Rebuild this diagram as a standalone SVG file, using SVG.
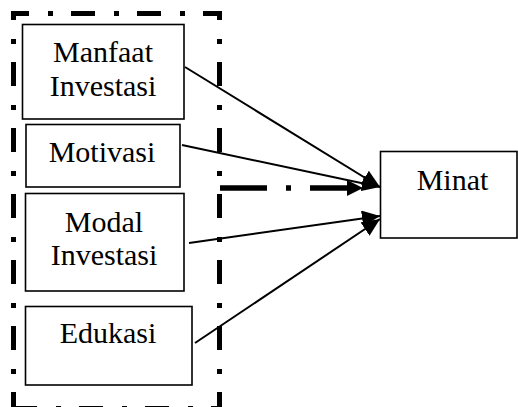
<svg xmlns="http://www.w3.org/2000/svg" width="518" height="407" viewBox="0 0 518 407">
<style>
.box{fill:#fff;stroke:#000;stroke-width:1.6}
.t{font-family:"Liberation Serif","Times New Roman",serif;font-size:30px;fill:#000;text-anchor:middle}
.frame{stroke:#000;stroke-width:5;fill:none;stroke-dasharray:24 19 5 18}
.conn{stroke:#000;stroke-width:2;fill:none}
</style>
<defs>
<marker id="ah" markerUnits="userSpaceOnUse" markerWidth="20" markerHeight="16" refX="18" refY="8" orient="auto">
<path d="M0,0 L18,8 L0,16 z" fill="#000"/>
</marker>
<marker id="ahb" markerUnits="userSpaceOnUse" markerWidth="18" markerHeight="16" refX="0" refY="8" orient="auto">
<path d="M0,0 L16,8 L0,16 z" fill="#000"/>
</marker>
</defs>
<g id="frame">
<line class="frame" x1="12" y1="13.5" x2="222" y2="13.5" stroke-dashoffset="7"/>
<line class="frame" x1="13.5" y1="11" x2="13.5" y2="412" stroke-dashoffset="15"/>
<line class="frame" x1="219.5" y1="11" x2="219.5" y2="412" stroke-dashoffset="15"/>
<line class="frame" x1="13" y1="408.5" x2="222" y2="408.5"/>
</g>
<g id="connectors">
<line class="conn" x1="185" y1="67" x2="380" y2="187" marker-end="url(#ah)"/>
<line class="conn" x1="182" y1="145" x2="380" y2="187" marker-end="url(#ah)"/>
<line x1="220" y1="188" x2="347" y2="188" stroke="#000" stroke-width="5.5" stroke-dasharray="47 19 5 19 60" marker-end="url(#ahb)"/>
<line class="conn" x1="189" y1="243" x2="380" y2="216" marker-end="url(#ah)"/>
<line class="conn" x1="195" y1="343" x2="380" y2="219" marker-end="url(#ah)"/>
</g>
<g id="manfaat">
<rect class="box" x="22.5" y="24.5" width="161.5" height="94.5"/>
<text class="t" x="103" y="62">Manfaat</text>
<text class="t" x="103" y="96">Investasi</text>
</g>
<g id="motivasi">
<rect class="box" x="26" y="124.5" width="154" height="62.5"/>
<text class="t" x="102" y="162">Motivasi</text>
</g>
<g id="modal">
<rect class="box" x="25.5" y="193.5" width="158.5" height="97.5"/>
<text class="t" x="104" y="232">Modal</text>
<text class="t" x="104" y="265">Investasi</text>
</g>
<g id="edukasi">
<rect class="box" x="25.5" y="306.5" width="166.5" height="78.5"/>
<text class="t" x="108" y="343">Edukasi</text>
</g>
<g id="minat">
<rect class="box" x="380.5" y="151.5" width="136.5" height="86.5"/>
<text class="t" x="452.5" y="190">Minat</text>
</g>
</svg>
